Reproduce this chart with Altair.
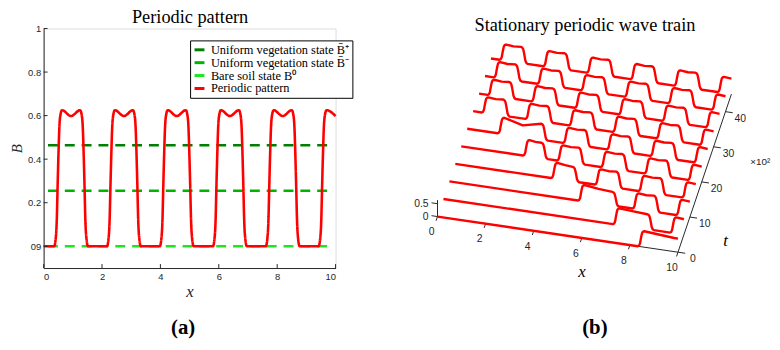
import altair as alt
import numpy as np
import pandas as pd

# ---------------- panel (a) data ----------------
X_TICKS = [0, 2, 4, 6, 8, 10]
B_TICKS = [0, 0.2, 0.4, 0.6, 0.8, 1.0]
SERIES = ["Uniform vegetation state B\u0304\u207a",
          "Uniform vegetation state B\u0304\u207b",
          "Bare soil state B\u2070",
          "Periodic pattern"]
STATE_LEVELS = [0.464, 0.255, 0.0]
STATE_X = [0.15, 9.85]
COLORS = ["#008000", "#00b400", "#1ee61e", "#ff0000"]

PATTERN_CENTERS = [0.94, 2.75, 4.56, 6.38, 8.19, 10.0]
PULSE_HALF = 0.43
PULSE_TOP = [0.625, 0.598, 0.625]

# edge shape of a pulse: offset from mid-edge, fraction of top
EDGE_DX = [-0.15, -0.10, -0.06, -0.03, 0.0, 0.03, 0.07, 0.12]
EDGE_FRAC = [0.0, 0.05, 0.19, 0.45, 0.69, 0.88, 0.97, 1.0]

# ---------------- panel (b) data ----------------
TRACE_T = [0, 5, 10, 15, 20, 25, 30, 35, 40, 45]
# front pulse per trace: (mid-rise x, mid-fall x, B left top, B middle, B right top)
TRACE_FRONT = {
    0: (8.48, 11.2, 0.62, 0.53, 0.50),
    5: (7.20, 8.60, 0.65, 0.61, 0.58),
    10: (5.50, 6.90, 0.64, 0.57, 0.53),
    15: (4.13, 5.00, 0.63, 0.58, 0.56),
    20: (2.72, 3.45, 0.63, 0.60, 0.60),
    25: (1.42, 3.20, 0.64, 0.45, 0.62),
}
# stationary pulses already formed behind the front
TRACE_CENTERS = {
    0: [],
    5: [10.0],
    10: [8.19, 10.0],
    15: [6.38, 8.19, 10.0],
    20: [4.56, 6.38, 8.19, 10.0],
    25: [4.56, 6.38, 8.19, 10.0],
    30: PATTERN_CENTERS,
    35: PATTERN_CENTERS,
    40: PATTERN_CENTERS,
    45: PATTERN_CENTERS,
}
BX_TICKS = [0, 2, 4, 6, 8, 10]
BT_TICKS = [0, 10, 20, 30, 40]
BZ_TICKS = [0, 0.5]
T_MAX = 45
Z_MAX = 0.64


def pulse_points(xr, xf, b1, b2, b3):
    pts = [(xr + dx, b1 * f) for dx, f in zip(EDGE_DX, EDGE_FRAC)]
    pts.append(((xr + xf) / 2, b2))
    pts += [(xf - dx, b3 * f) for dx, f in reversed(list(zip(EDGE_DX, EDGE_FRAC)))]
    return pts


def profile(pulses):
    pts = [(0.0, 0.0)]
    for p in pulses:
        pts += pulse_points(*p)
    xs = np.array([p[0] for p in pts])
    bs = np.array([p[1] for p in pts])
    keep = xs <= 10.0
    out_x, out_b = list(xs[keep]), list(bs[keep])
    if out_x[-1] < 10.0:
        end_b = float(np.interp(10.0, xs, bs)) if xs.max() > 10.0 else 0.0
        out_x.append(10.0)
        out_b.append(end_b)
    return out_x, out_b


def stationary(c):
    return (c - PULSE_HALF, c + PULSE_HALF, *PULSE_TOP)


# panel (a) tables
px, pb = profile([stationary(c) for c in PATTERN_CENTERS])
pattern_df = pd.DataFrame({"x": px, "B": pb, "series": SERIES[3], "i": range(len(px))})
states_df = pd.DataFrame([
    {"x": xv, "B": lvl, "series": s, "i": k}
    for s, lvl in zip(SERIES[:3], STATE_LEVELS) for k, xv in enumerate(STATE_X)
])

# panel (b) tables
rows = []
for t in TRACE_T:
    pulses = []
    if t in TRACE_FRONT:
        pulses.append(TRACE_FRONT[t])
    pulses += [stationary(c) for c in TRACE_CENTERS[t]]
    pulses.sort(key=lambda p: p[0])
    tx, tb = profile(pulses)
    for k, (a, b) in enumerate(zip(tx, tb)):
        rows.append({"x": a, "t": t, "B": b, "i": k})
traces_df = pd.DataFrame(rows)

seg = []
def add_seg(name, p0, p1):
    seg.append({"seg": name, "i": 0, "x": p0[0], "t": p0[1], "B": p0[2]})
    seg.append({"seg": name, "i": 1, "x": p1[0], "t": p1[1], "B": p1[2]})

add_seg("xaxis", (0, 0, 0), (10, 0, 0))
add_seg("taxis", (10, 0, 0), (10, T_MAX, 0))
add_seg("zaxis", (0, 0, 0), (0, 0, Z_MAX))
for v in BX_TICKS:
    add_seg(f"xt{v}", (v, 0, 0), (v, -1.2, 0))
for v in BT_TICKS:
    add_seg(f"tt{v}", (10, v, 0), (10.3, v, 0))
for v in BZ_TICKS:
    add_seg(f"zt{v}", (0, 0, v), (-0.25, 0, v))
axes3d_df = pd.DataFrame(seg)

xlab_df = pd.DataFrame({"x": BX_TICKS, "t": 0, "B": 0, "lab": [str(v) for v in BX_TICKS]})
tlab_df = pd.DataFrame({"x": 10, "t": BT_TICKS, "B": 0, "lab": [str(v) for v in BT_TICKS]})
zlab_df = pd.DataFrame({"x": 0, "t": 0, "B": BZ_TICKS, "lab": ["0", "0.5"]})

# ---------------- chart ----------------
W, H = 295, 242
AX = "#262626"
SERIF = "Liberation Serif"
SANS = "Liberation Sans"

xs = alt.Scale(domain=[0, 10], nice=False, zero=False)
ys = alt.Scale(domain=[-0.1, 1], nice=False, zero=False)
x_axis = alt.Axis(values=X_TICKS, title="x", titleFont=SERIF, titleFontStyle="italic",
                  titleFontWeight="normal", titleFontSize=17, titleColor=AX, titlePadding=2,
                  labelFont=SANS, labelFontSize=9.5, labelColor=AX, labelPadding=4,
                  tickSize=0, domainColor=AX, domainWidth=1, grid=False, format="d")
y_axis = alt.Axis(values=B_TICKS, title="B", titleFont=SERIF, titleFontStyle="italic",
                  titleFontWeight="normal", titleFontSize=15, titleColor=AX, titlePadding=3,
                  labelFont=SANS, labelFontSize=9.5, labelColor=AX, labelPadding=3,
                  tickSize=0, domainColor=AX, domainWidth=1, grid=False,
                  labelExpr="datum.value == 0 ? '09' : (datum.value == 1 ? '1' : format(datum.value, '.1f'))")
legend = alt.Legend(title=None, orient="none", legendX=148, legendY=12,
                    symbolType="stroke", symbolSize=100, symbolStrokeWidth=3,
                    labelFont=SERIF, labelFontSize=12.5, labelColor="black", labelOffset=5,
                    strokeColor="black", fillColor="white", padding=3, rowPadding=0,
                    offset=0)
color = alt.Color("series:N", scale=alt.Scale(domain=SERIES, range=COLORS), legend=legend)
dash = alt.StrokeDash("series:N", scale=alt.Scale(domain=SERIES, range=[[10, 7], [10, 7], [10, 7], [1, 0]]),
                      legend=legend)

states = alt.Chart(states_df).mark_line(strokeWidth=2.6).encode(
    x=alt.X("x:Q", scale=xs, axis=x_axis), y=alt.Y("B:Q", scale=ys, axis=y_axis),
    color=color, strokeDash=dash, detail="series:N", order="i:Q")
pattern = alt.Chart(pattern_df).mark_line(strokeWidth=2.6, interpolate="monotone").encode(
    x=alt.X("x:Q", scale=xs, axis=x_axis), y=alt.Y("B:Q", scale=ys, axis=y_axis),
    color=color, strokeDash=dash, order="i:Q")
xticks = alt.Chart(pd.DataFrame({"x": X_TICKS})).mark_rule(color=AX, strokeWidth=1).encode(
    x=alt.X("x:Q", scale=xs, axis=x_axis), y=alt.value(H), y2=alt.value(H - 4))
yticks = alt.Chart(pd.DataFrame({"B": B_TICKS})).mark_rule(color=AX, strokeWidth=1).encode(
    y=alt.Y("B:Q", scale=ys, axis=y_axis), x=alt.value(0), x2=alt.value(4))

one = pd.DataFrame({"k": [0]})
def label(text, x, y, size, font=SERIF, style="normal", weight="normal", align="center", color="black"):
    return alt.Chart(one).mark_text(text=text, font=font, fontSize=size, fontStyle=style,
                                    fontWeight=weight, align=align, baseline="alphabetic",
                                    color=color).encode(x=alt.value(x), y=alt.value(y))

panel_a = alt.layer(states, pattern, xticks, yticks,
                    label("Periodic pattern", 148, -6, 18.5),
                    label("(a)", 141, 309, 21, weight="bold"),
                    label("Stationary periodic wave train", 547, 2, 18.5),
                    label("(b)", 557, 309, 21, weight="bold"),
                    label("x", 544, 251, 17, style="italic"),
                    label("t", 689, 220, 17, style="italic"),
                    label("\u00d710\u00b2", 714, 138, 10, font=SANS, align="left", color=AX))

# 3-D projection of panel (b), in pixels from the origin of panel (a)
proj = dict(sx="398 + 24.3 * datum.x + 1.2 * datum.t",
            sy="190 + 3.6 * datum.x - 3.55 * datum.t - 26 * datum.B")
bx = alt.X("sx:Q", scale=alt.Scale(domain=[0, W], nice=False, zero=False), axis=None)
by = alt.Y("sy:Q", scale=alt.Scale(domain=[0, H], nice=False, zero=False, reverse=True), axis=None)

axes3d = alt.Chart(axes3d_df).transform_calculate(**proj).mark_line(color=AX, strokeWidth=1).encode(
    x=bx, y=by, detail="seg:N", order="i:Q")
traces = alt.Chart(traces_df).transform_calculate(**proj).mark_line(
    color="#ff0000", strokeWidth=2.4, interpolate="linear", strokeJoin="round").encode(
    x=bx, y=by, detail="t:N", order="i:Q")
xlab = alt.Chart(xlab_df).transform_calculate(**proj).mark_text(
    font=SANS, fontSize=10.5, color=AX, dx=-6, dy=16).encode(x=bx, y=by, text="lab:N")
tlab = alt.Chart(tlab_df).transform_calculate(**proj).mark_text(
    font=SANS, fontSize=10.5, color=AX, dx=15, dy=7).encode(x=bx, y=by, text="lab:N")
zlab = alt.Chart(zlab_df).transform_calculate(**proj).mark_text(
    font=SANS, fontSize=10.5, color=AX, align="right", dx=-9).encode(x=bx, y=by, text="lab:N")

panel_b = alt.layer(axes3d, traces, xlab, tlab, zlab)

chart = alt.layer(panel_a, panel_b).resolve_scale(x="independent", y="independent").properties(
    width=W, height=H,
    autosize=alt.AutoSizeParams(type="none"),
    padding={"left": 36, "top": 19, "right": 441, "bottom": 73},
).configure_view(stroke=None).configure(background="white")

chart.save("out.html", embed_options={"renderer": "svg", "actions": False})
